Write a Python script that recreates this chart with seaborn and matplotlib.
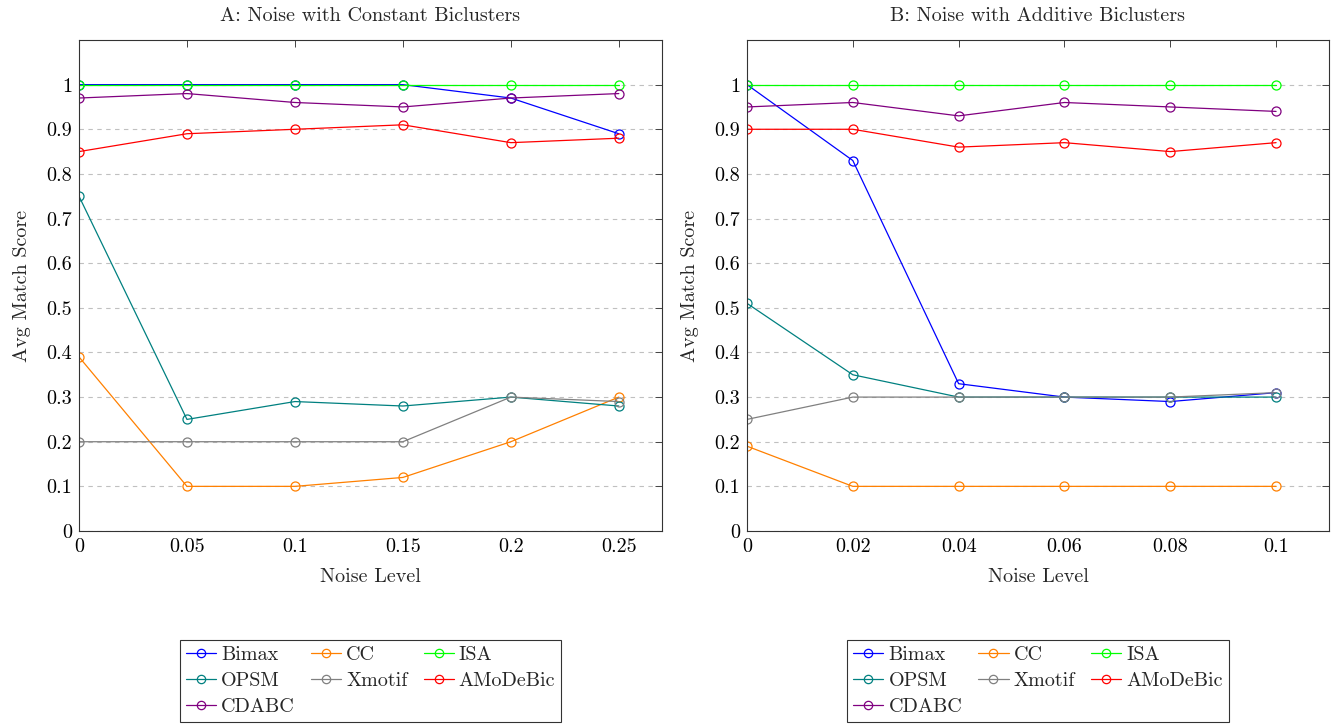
import matplotlib
matplotlib.use("Agg")
import matplotlib.pyplot as plt
import seaborn as sns
import numpy as np
import pandas as pd
from matplotlib.ticker import FuncFormatter

sns.set_style("white")
plt.rcParams['font.family'] = ['cmr10', 'DejaVu Serif']
plt.rcParams['mathtext.fontset'] = 'cm'
plt.rcParams['axes.formatter.use_mathtext'] = True

methods = ["Bimax", "CC", "ISA", "OPSM", "Xmotif", "AMoDeBic", "CDABC"]
colors = ["#0000ff", "#ff8000", "#00ff00", "#008080", "#808080", "#ff0000", "#800080"]

noise_a = [0, 0.05, 0.1, 0.15, 0.2, 0.25]
scores_a = {
    "Bimax":    [1.00, 1.00, 1.00, 1.00, 0.97, 0.89],
    "CC":       [0.39, 0.10, 0.10, 0.12, 0.20, 0.30],
    "ISA":      [1.00, 1.00, 1.00, 1.00, 1.00, 1.00],
    "OPSM":     [0.75, 0.25, 0.29, 0.28, 0.30, 0.28],
    "Xmotif":   [0.20, 0.20, 0.20, 0.20, 0.30, 0.29],
    "AMoDeBic": [0.85, 0.89, 0.90, 0.91, 0.87, 0.88],
    "CDABC":    [0.97, 0.98, 0.96, 0.95, 0.97, 0.98],
}

noise_b = [0, 0.02, 0.04, 0.06, 0.08, 0.1]
scores_b = {
    "Bimax":    [1.00, 0.83, 0.33, 0.30, 0.29, 0.31],
    "CC":       [0.19, 0.10, 0.10, 0.10, 0.10, 0.10],
    "ISA":      [1.00, 1.00, 1.00, 1.00, 1.00, 1.00],
    "OPSM":     [0.51, 0.35, 0.30, 0.30, 0.30, 0.30],
    "Xmotif":   [0.25, 0.30, 0.30, 0.30, 0.30, 0.31],
    "AMoDeBic": [0.90, 0.90, 0.86, 0.87, 0.85, 0.87],
    "CDABC":    [0.95, 0.96, 0.93, 0.96, 0.95, 0.94],
}

titles = ["A: Noise with Constant Biclusters", "B: Noise with Additive Biclusters"]
xticks_list = [noise_a, noise_b]
xmax_list = [0.27, 0.11]
yticks = [0, 0.1, 0.2, 0.3, 0.4, 0.5, 0.6, 0.7, 0.8, 0.9, 1]

W, H = 1336, 726
fig = plt.figure(figsize=(W / 100, H / 100), dpi=100)
ax_a = fig.add_axes([79 / W, (H - 531) / H, 583 / W, 491 / H])
ax_b = fig.add_axes([747 / W, (H - 531) / H, 582 / W, 491 / H])

fs = 14.5
fmt = FuncFormatter(lambda v, p: "%g" % round(v, 4))

# legend is filled column by column; this order reads row by row
leg_order = [0, 3, 6, 1, 4, 2, 5]

for ax, noise, scores, title, xt, xmax in zip(
        [ax_a, ax_b], [noise_a, noise_b], [scores_a, scores_b], titles,
        xticks_list, xmax_list):
    for m, c in zip(methods, colors):
        df = pd.DataFrame({"Noise Level": noise, "Avg Match Score": scores[m]})
        sns.lineplot(data=df, x="Noise Level", y="Avg Match Score", ax=ax,
                     color=c, lw=0.9, marker="o", markersize=6.5,
                     markerfacecolor="none", markeredgecolor=c,
                     markeredgewidth=0.9, label=m)
    ax.set_xlim(0, xmax)
    ax.set_ylim(0, 1.1)
    ax.set_xticks(xt)
    ax.set_yticks(yticks)
    ax.xaxis.set_major_formatter(fmt)
    ax.yaxis.set_major_formatter(fmt)
    ax.grid(axis="y", color="#c0c0c0", linestyle=(0, (4, 4)), lw=0.8)
    ax.set_axisbelow(True)
    ax.tick_params(direction="in", top=True, right=True, length=5,
                   width=0.7, labelsize=fs, colors="#444444",
                   labelcolor="black", pad=5)
    for s in ax.spines.values():
        s.set_color("#333333")
        s.set_linewidth(0.8)
    ax.set_title(title, fontsize=fs, pad=14)
    ax.set_xlabel("Noise Level", fontsize=fs, labelpad=9)
    ax.set_ylabel("Avg Match Score", fontsize=fs, labelpad=11)
    handles, labels = ax.get_legend_handles_labels()
    handles = [handles[i] for i in leg_order]
    labels = [labels[i] for i in leg_order]
    leg = ax.legend(handles, labels, loc="upper center",
                    bbox_to_anchor=(0.5, -0.222),
                    ncol=3, fontsize=fs, frameon=True, fancybox=False,
                    edgecolor="black", handlelength=1.5, handletextpad=0.25,
                    columnspacing=0.8, labelspacing=0.4, borderpad=0.3,
                    borderaxespad=0)
    leg.get_frame().set_linewidth(0.8)
    for h in leg.legend_handles:
        h.set_markersize(6)

fig.savefig("out.png", dpi=100)
